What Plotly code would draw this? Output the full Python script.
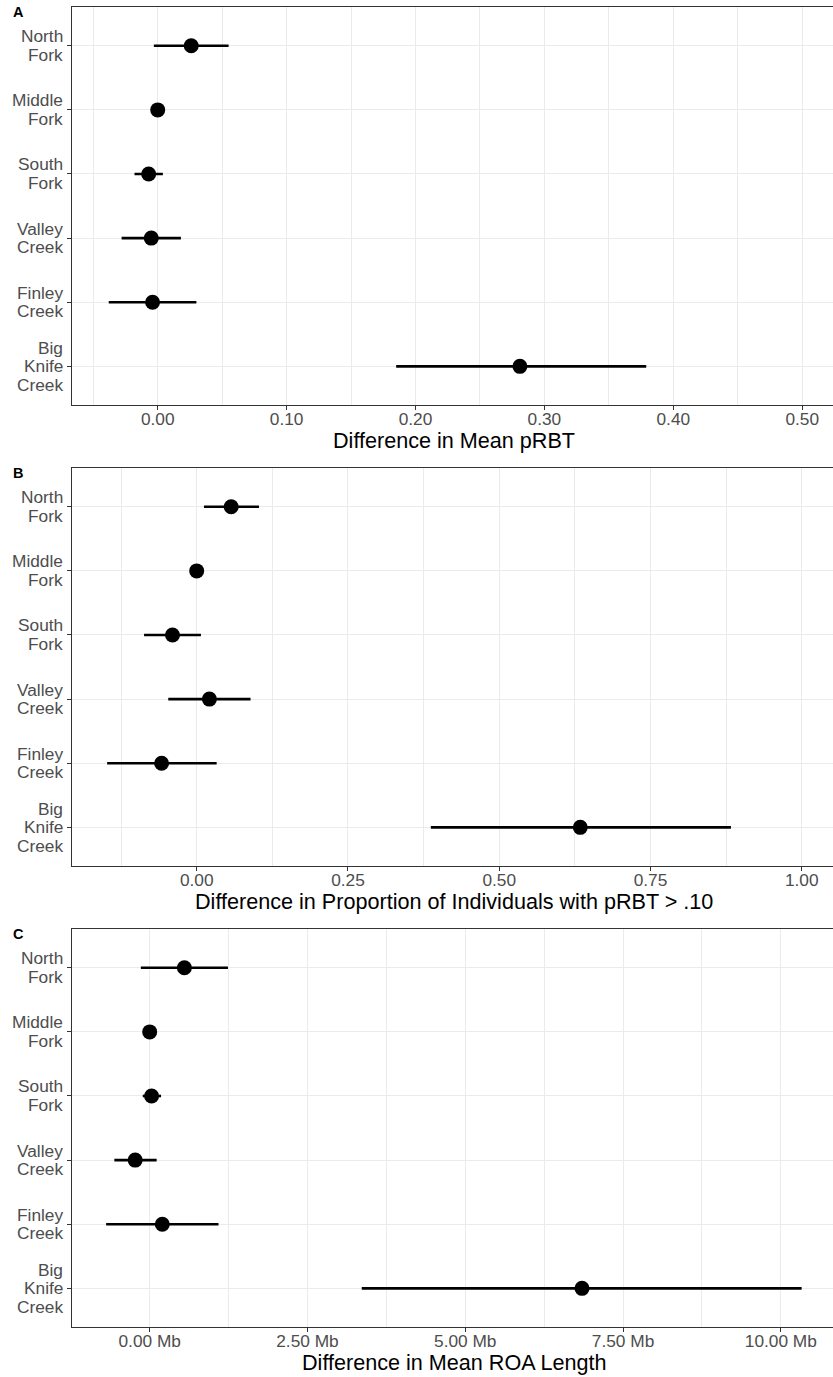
import plotly.graph_objects as go

# ---- data ----
sites = ["North Fork", "Middle Fork", "South Fork", "Valley Creek", "Finley Creek", "Big Knife Creek"]
site_lines = [["North", "Fork"], ["Middle", "Fork"], ["South", "Fork"], ["Valley", "Creek"],
              ["Finley", "Creek"], ["Big", "Knife", "Creek"]]

# Panel A: difference in mean pRBT
prbt_est = [0.026, 0.000, -0.007, -0.005, -0.004, 0.281]
prbt_lo = [-0.003, 0.000, -0.018, -0.028, -0.038, 0.185]
prbt_hi = [0.055, 0.000, 0.004, 0.018, 0.030, 0.379]

# Panel B: difference in proportion of individuals with pRBT > .10
prop_est = [0.057, 0.000, -0.040, 0.021, -0.058, 0.634]
prop_lo = [0.012, 0.000, -0.087, -0.047, -0.148, 0.387]
prop_hi = [0.103, 0.000, 0.007, 0.089, 0.033, 0.883]

# Panel C: difference in mean ROA length (Mb)
roa_est = [0.55, 0.00, 0.03, -0.23, 0.20, 6.85]
roa_lo = [-0.14, 0.00, -0.11, -0.56, -0.69, 3.36]
roa_hi = [1.24, 0.00, 0.18, 0.11, 1.09, 10.33]

panels = [
    dict(letter="A", est=prbt_est, lo=prbt_lo, hi=prbt_hi, title="Difference in Mean pRBT",
         rng=[-0.0665, 0.5239], dtick=0.1, fmt=".2f", suffix=""),
    dict(letter="B", est=prop_est, lo=prop_lo, hi=prop_hi,
         title="Difference in Proportion of Individuals with pRBT > .10",
         rng=[-0.2061, 1.0517], dtick=0.25, fmt=".2f", suffix=""),
    dict(letter="C", est=roa_est, lo=roa_lo, hi=roa_hi, title="Difference in Mean ROA Length",
         rng=[-1.231, 10.827], dtick=2.5, fmt=".2f", suffix=" Mb"),
]

W, H = 833, 1377
tops = [7.3, 468.3, 929.3]
ph = 397.5
left = 72

FONT = "Liberation Sans, Arial, Helvetica, sans-serif"
GRID = "#EBEBEB"
AX = "#333333"
TICKCOL = "#4D4D4D"

fig = go.Figure()
layout = dict(
    width=W, height=H, margin=dict(l=0, r=0, t=0, b=0),
    paper_bgcolor="white", plot_bgcolor="white", showlegend=False,
    font=dict(family=FONT, color="black"),
    template="none",
)
annotations = []
line_offsets = {2: [9.5, -9.0], 3: [18.6, 0.0, -18.6]}

for i, p in enumerate(panels):
    n = "" if i == 0 else str(i + 1)
    xa, ya = "x" + n, "y" + n
    plus = [h - e for h, e in zip(p["hi"], p["est"])]
    minus = [e - l for e, l in zip(p["est"], p["lo"])]
    fig.add_trace(go.Scatter(
        x=p["est"], y=sites, mode="markers", xaxis=xa, yaxis=ya,
        marker=dict(size=15, color="black", line=dict(width=0)),
        error_x=dict(type="data", symmetric=False, array=plus, arrayminus=minus,
                     thickness=2.6, width=0, color="black"),
        hoverinfo="x+y",
    ))
    top = tops[i]
    bot = top + ph
    layout["xaxis" + n] = dict(
        domain=[left / W, 1], anchor=ya, range=p["rng"], dtick=p["dtick"], tick0=0,
        tickformat=p["fmt"], ticksuffix=p["suffix"],
        showgrid=True, gridcolor=GRID, gridwidth=1.3, zeroline=False,
        minor=dict(dtick=p["dtick"] / 2, tick0=0, showgrid=True, gridcolor=GRID, gridwidth=1, ticks=""),
        showline=True, linecolor=AX, linewidth=1.1, mirror=True,
        ticks="outside", ticklen=4, tickcolor=AX, tickwidth=1.1,
        ticklabelstandoff=-6,
        tickfont=dict(family=FONT, size=17.3, color=TICKCOL),
        automargin=False, fixedrange=True,
    )
    layout["yaxis" + n] = dict(
        domain=[1 - bot / H, 1 - top / H], anchor=xa, type="category",
        categoryorder="array", categoryarray=sites, range=[5.6, -0.6],
        tickvals=sites, showticklabels=False,
        showgrid=True, gridcolor=GRID, gridwidth=1.3, zeroline=False,
        showline=True, linecolor=AX, linewidth=1.1, mirror=False,
        ticks="outside", ticklen=4, tickcolor=AX, tickwidth=1.1,
        automargin=False, fixedrange=True,
    )
    # y-axis category labels (multi-line, right aligned, R-like line spacing)
    for site, lines in zip(sites, site_lines):
        for txt, off in zip(lines, line_offsets[len(lines)]):
            annotations.append(dict(
                text=txt, xref="paper", yref=ya, x=64.5 / W, y=site,
                xanchor="right", yanchor="middle", yshift=off, showarrow=False,
                font=dict(family=FONT, size=17.3, color=TICKCOL),
            ))
    # x-axis title
    annotations.append(dict(
        text=p["title"], xref="paper", yref="paper", x=(left + 836) / 2 / W,
        y=1 - (bot + 36) / H, xanchor="center", yanchor="middle", showarrow=False,
        font=dict(family=FONT, size=21.6, color="black"),
    ))
    # panel letter
    annotations.append(dict(
        text="<b>%s</b>" % p["letter"], xref="paper", yref="paper",
        x=11 / W, y=1 - (top + 4.7) / H, xanchor="left", yanchor="middle",
        showarrow=False, font=dict(family=FONT, size=14.5, color="black"),
    ))

layout["annotations"] = annotations
fig.update_layout(**layout)
fig.write_html("out.html")
